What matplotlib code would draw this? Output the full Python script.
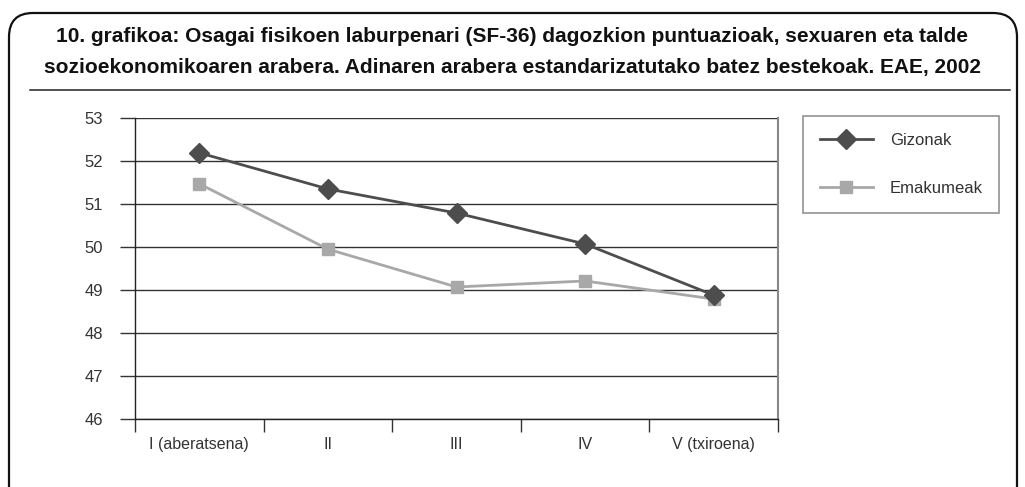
import matplotlib
matplotlib.use('Agg')
import matplotlib.pyplot as plt
import matplotlib.transforms as mtransforms
from matplotlib.patches import FancyBboxPatch
from matplotlib.lines import Line2D

plt.rcParams['font.family'] = ['Liberation Sans', 'DejaVu Sans']

categories = ['I (aberatsena)', 'II', 'III', 'IV', 'V (txiroena)']
gizonak = [52.19, 51.35, 50.79, 50.07, 48.88]
emakumeak = [51.47, 49.95, 49.07, 49.21, 48.79]
yticks = [46, 47, 48, 49, 50, 51, 52, 53]

title = ("10. grafikoa: Osagai fisikoen laburpenari (SF-36) dagozkion puntuazioak, sexuaren eta talde\n"
         "sozioekonomikoaren arabera. Adinaren arabera estandarizatutako batez bestekoak. EAE, 2002")

W, H = 1025, 487
fig = plt.figure(figsize=(W / 100, H / 100), dpi=100)

# rounded frame around everything (pixel coords)
frame = FancyBboxPatch((9, -40), 1008, 40 + (H - 13), boxstyle='round,pad=0,rounding_size=24',
                       transform=mtransforms.IdentityTransform(), fill=False,
                       edgecolor='#111111', linewidth=1.6)
fig.patches.append(frame)

line1, line2 = title.split('\n')
fig.text(0.5, 1 - 36 / H, line1, ha='center', va='center',
         fontsize=15, fontweight='bold', color='#111111')
fig.text(0.5, 1 - 67 / H, line2, ha='center', va='center',
         fontsize=15, fontweight='bold', color='#111111')
fig.add_artist(Line2D([30 / W, 1010 / W], [1 - 90 / H, 1 - 90 / H], color='#222222', linewidth=1.1))

# plot area
left, right, top, bottom = 135, 778, 118, 419
ax = fig.add_axes([left / W, 1 - bottom / H, (right - left) / W, (bottom - top) / H])
x = list(range(len(categories)))

ax.plot(x, gizonak, color='#4d4d4d', linewidth=2, marker='D', markersize=10,
        markeredgecolor='#4d4d4d', label='Gizonak', zorder=4)
ax.plot(x, emakumeak, color='#a8a8a8', linewidth=2, marker='s', markersize=9,
        markeredgecolor='#a8a8a8', label='Emakumeak', zorder=3)

ax.set_xlim(-0.5, len(categories) - 0.5)
ax.set_ylim(yticks[0], yticks[-1])
ax.set_yticks(yticks)
ax.yaxis.grid(True, color='#333333', linewidth=1)
ax.set_axisbelow(True)

ax.set_xticks(x)
ax.set_xticklabels(categories)
ax.set_xticks([i - 0.5 for i in range(len(categories) + 1)], minor=True)
ax.tick_params(axis='x', which='major', length=0, pad=13, labelsize=11.5, labelcolor='#333333')
ax.tick_params(axis='x', which='minor', length=9.5, width=1, color='#333333', direction='out')
ax.tick_params(axis='y', length=11, width=1, color='#333333', direction='out', pad=12,
               labelsize=12, labelcolor='#333333')

for s in ['left', 'bottom']:
    ax.spines[s].set_color('#222222')
    ax.spines[s].set_linewidth(1)
ax.spines['top'].set_visible(False)
ax.spines['right'].set_color('#888888')
ax.spines['right'].set_linewidth(1.5)

leg = fig.legend(loc='upper left', bbox_to_anchor=(803 / W, 1 - 116 / H), frameon=True,
                 fancybox=False, edgecolor='#777777', fontsize=12, handlelength=3.2,
                 handletextpad=1.0, borderpad=1.0, labelspacing=2.0, borderaxespad=0)
leg.get_frame().set_linewidth(1.2)
for t in leg.get_texts():
    t.set_color('#333333')

fig.savefig('out.png', dpi=100)
